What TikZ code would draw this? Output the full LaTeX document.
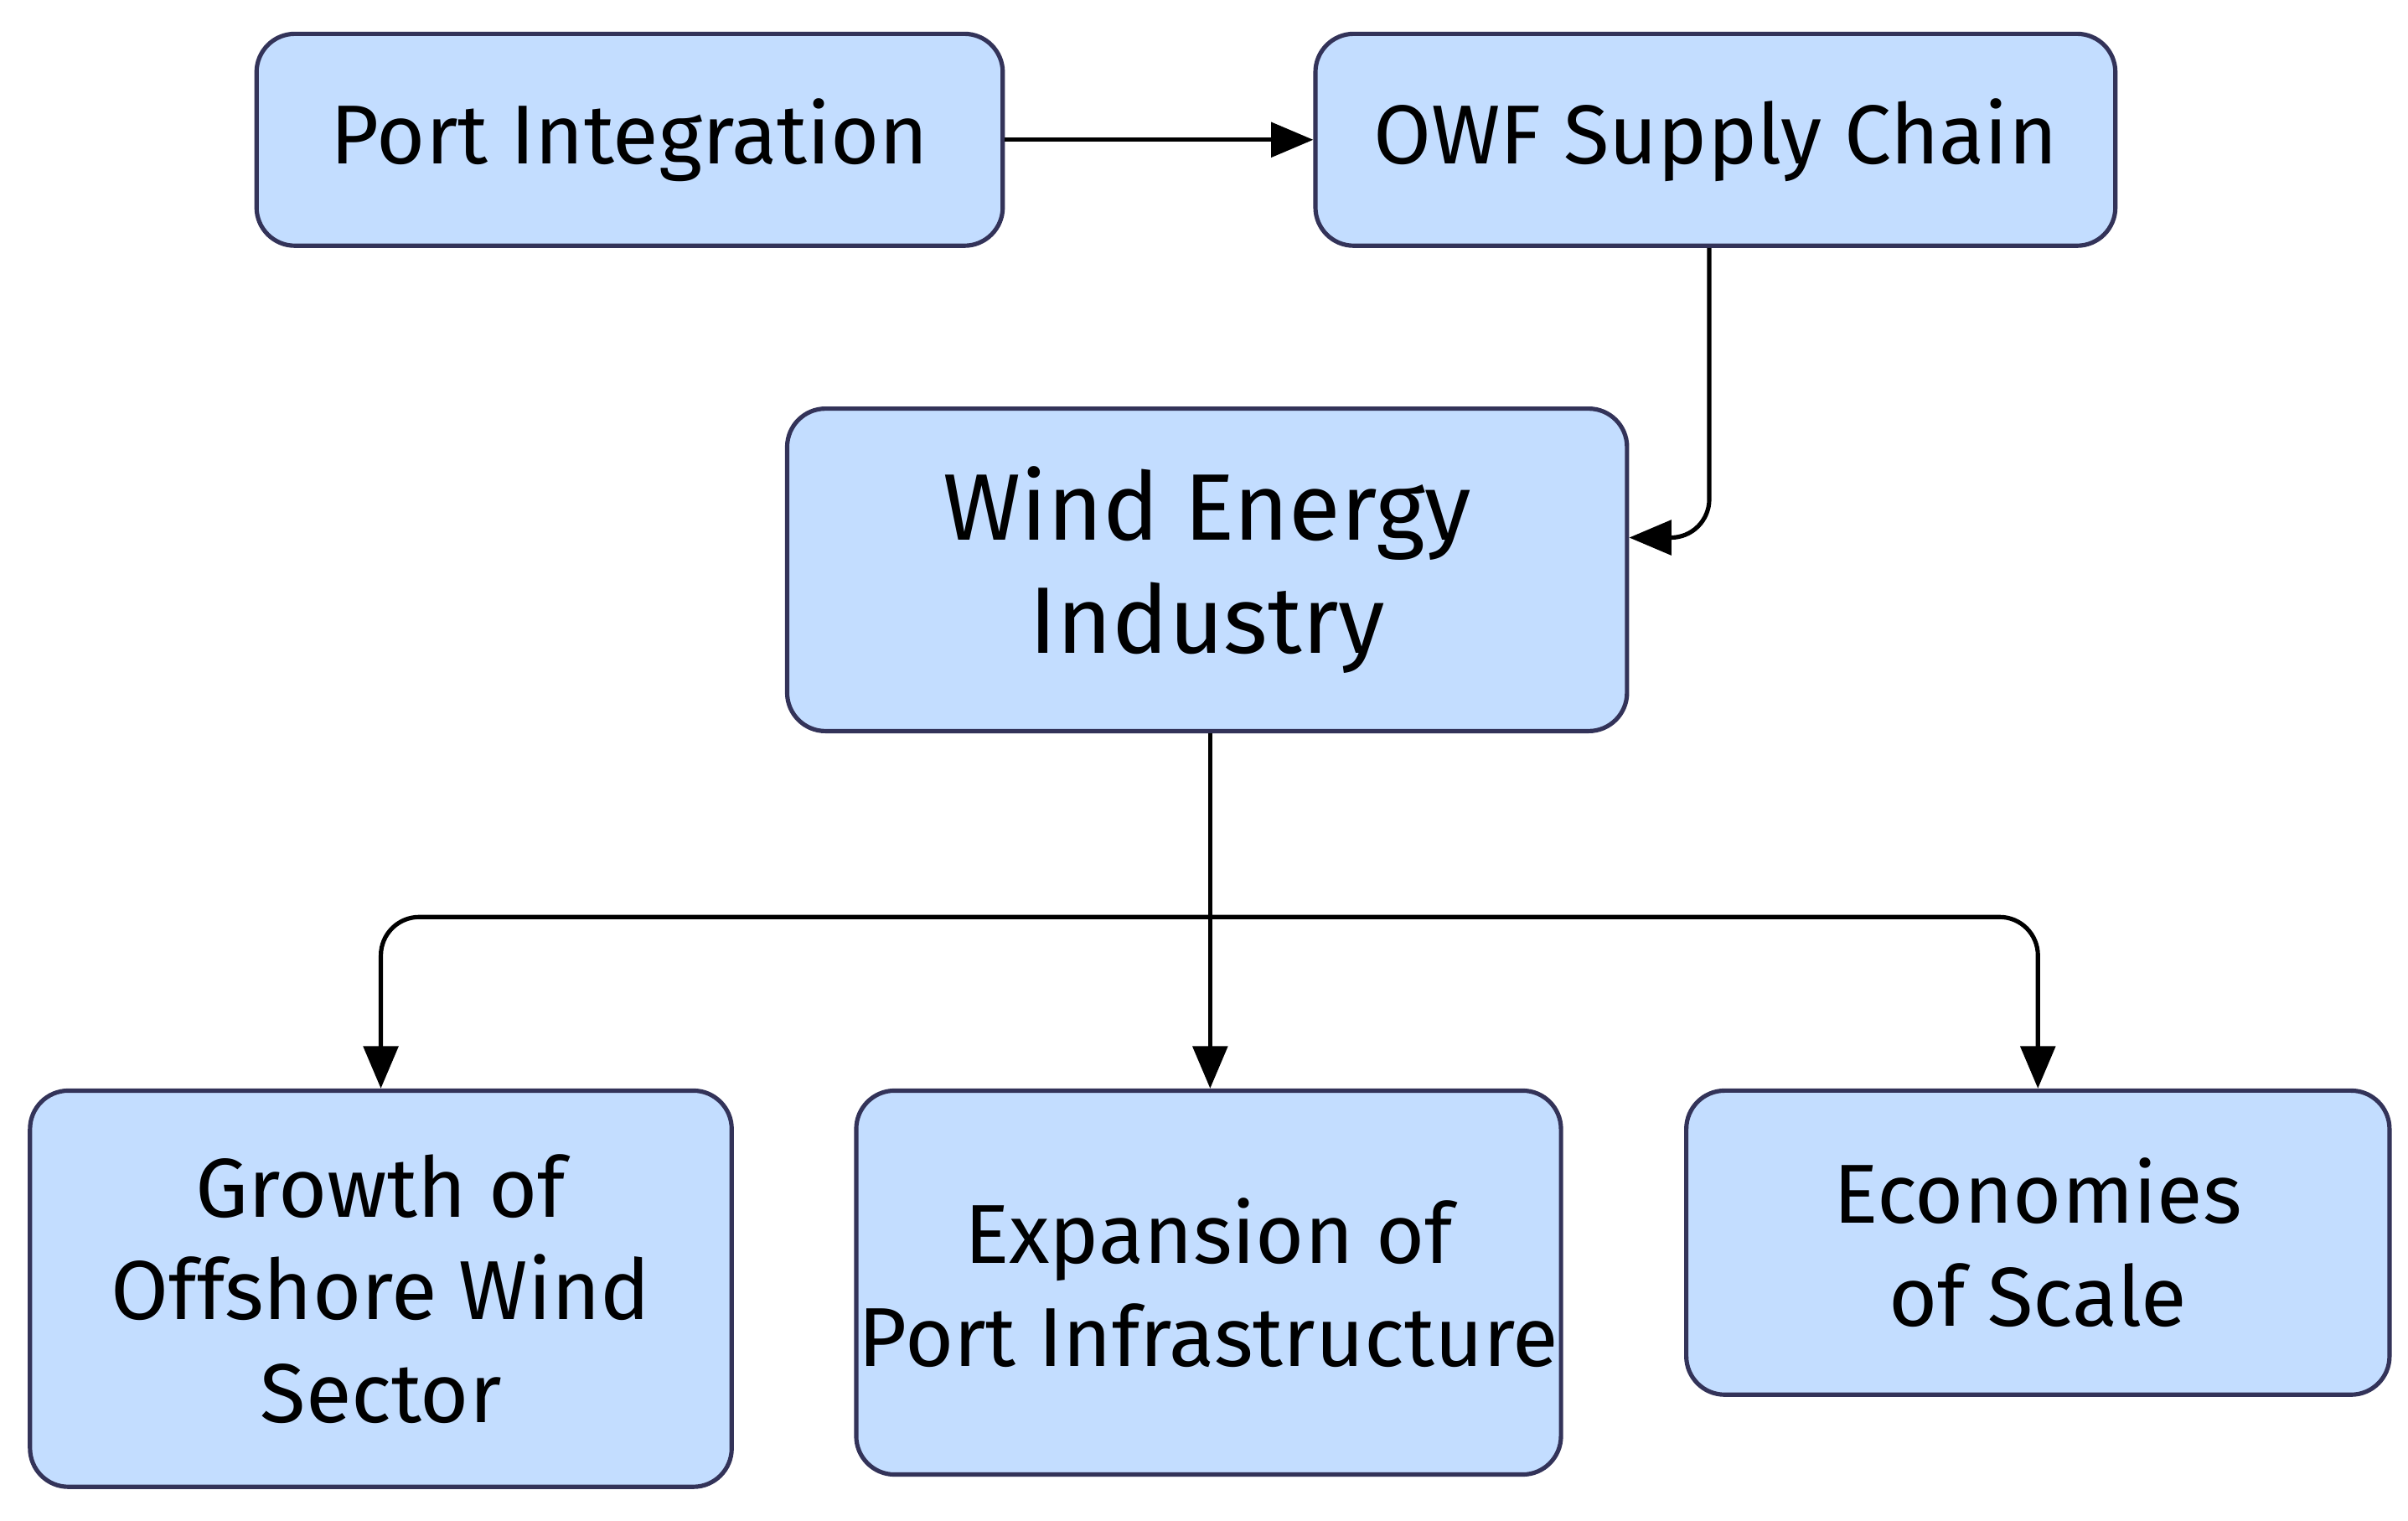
\documentclass[tikz,border=0pt]{standalone}
\usepackage{fontspec}
\setmainfont{Fira Sans}
\usetikzlibrary{arrows.meta}
\begin{document}
\begin{tikzpicture}[x=0.02cm,y=-0.02cm,
  box/.style={draw=black!75!blue!60!gray,line width=1.6pt,fill=blue!15!white!90!cyan,rounded corners=0.5cm,inner sep=0pt,align=center,font=\fontsize{31}{38}\selectfont},
  arr/.style={line width=1.6pt,-{Triangle[length=0.55cm,width=0.45cm]},rounded corners=0.5cm}]
\useasboundingbox (0,0) rectangle (1568,990);
\node[box,minimum width=9.72cm,minimum height=2.76cm] (port) at (410,91) {Port Integration};
\node[box,minimum width=10.42cm,minimum height=2.76cm] (owf) at (1117,91) {OWF Supply Chain};
\node[box,minimum width=10.94cm,minimum height=4.2cm,font=\fontsize{35}{42}\selectfont] (wind) at (786,371) {Wind Energy\\Industry};
\node[box,minimum width=9.14cm,minimum height=5.16cm] (grow) at (248,839) {Growth of\\Offshore Wind\\Sector};
\node[box,minimum width=9.18cm,minimum height=5.0cm] (exp) at (787,835) {Expansion of\\Port Infrastructure};
\node[box,minimum width=9.16cm,minimum height=3.96cm] (eco) at (1327,809) {Economies\\of Scale};
\coordinate (split) at (788,597);
\draw[arr] (port) -- (owf);
\draw[arr] (owf.south -| 1113,0) |- (wind.east |- 0,350);
\draw[arr] (wind.south -| split) -- (exp.north -| split);
\draw[arr] (split) -| (grow.north);
\draw[arr] (split) -| (eco.north);
\end{tikzpicture}
\end{document}
